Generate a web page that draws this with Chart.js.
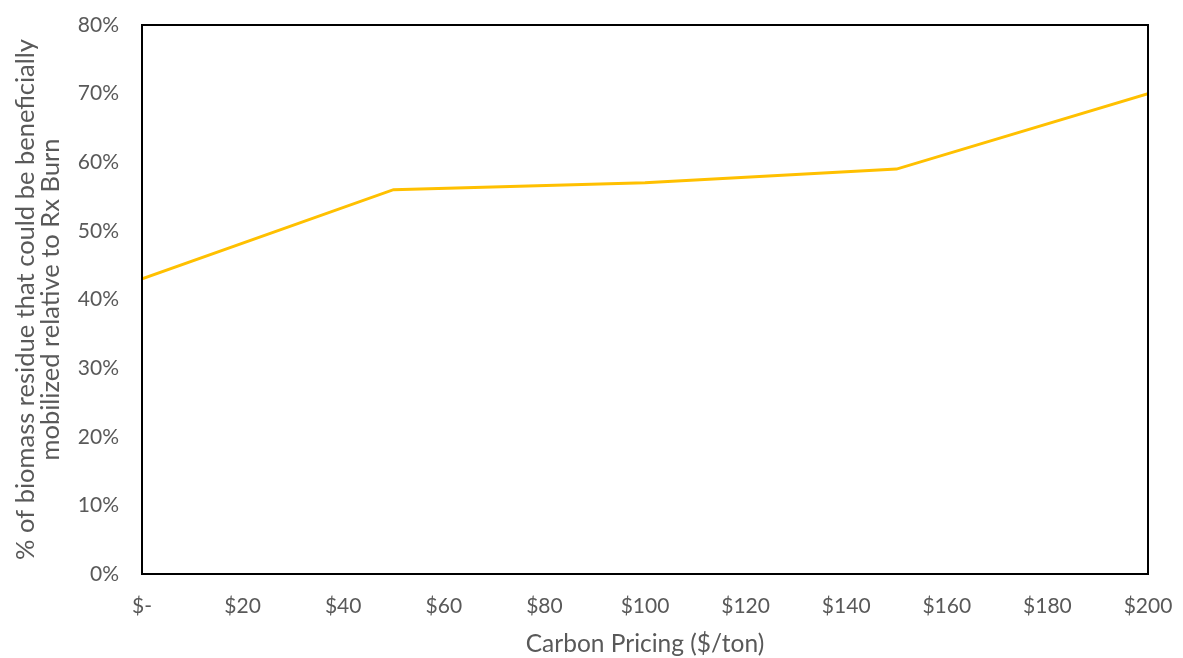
<!DOCTYPE html>
<html>
<head>
<meta charset="utf-8">
<script src="https://cdn.jsdelivr.net/npm/chart.js@4"></script>
<style>
  html, body { margin: 0; padding: 0; background: #fff; }
  #wrap { width: 1183px; height: 658px; }
</style>
</head>
<body>
<div id="wrap"><canvas id="line-chart" width="1183" height="658"></canvas></div>
<script>
// Carbon price ($/ton) and share of residue mobilized (%)
const carbonPrices = [0, 50, 100, 150, 200];
const mobilizedPct = [43, 56, 57, 59, 70];
const xTicks = [0, 20, 40, 60, 80, 100, 120, 140, 160, 180, 200];
const yTicks = [0, 10, 20, 30, 40, 50, 60, 70, 80];

const gray = '#595959';
const fontFamily = 'Lato, "Open Sans", sans-serif';

// draws the black frame round the plot area
const frame = {
    id: 'frame',
    afterDraw(chart) {
        const a = chart.chartArea;
        const ctx = chart.ctx;
        ctx.save();
        ctx.strokeStyle = '#000';
        ctx.lineWidth = 2;
        ctx.strokeRect(a.left, a.top, a.right - a.left, a.bottom - a.top);
        ctx.restore();
    }
};

var ctx = document.getElementById('line-chart').getContext('2d');
new Chart(ctx, {
    type: 'line',
    data: {
        datasets: [{
            data: carbonPrices.map((p, i) => ({ x: p, y: mobilizedPct[i] })),
            borderColor: '#FFC000',
            borderWidth: 3,
            pointRadius: 0,
            tension: 0,
            fill: false
        }]
    },
    options: {
        responsive: false,
        animation: false,
        layout: { padding: { left: 0, right: 35, top: 25, bottom: 0 } },
        plugins: { legend: { display: false }, tooltip: { enabled: false } },
        scales: {
            x: {
                type: 'linear',
                min: 0,
                max: 200,
                afterFit(scale) {
                    scale.height = 84;
                    scale.paddingLeft = 0;
                    scale.paddingRight = 0;
                },
                afterBuildTicks(scale) { scale.ticks = xTicks.map(v => ({ value: v })); },
                grid: { display: false, drawTicks: false },
                border: { display: false },
                ticks: {
                    padding: 20,
                    color: gray,
                    font: { family: fontFamily, size: 21 },
                    callback: v => v === 0 ? '$-' : '$' + v
                },
                title: {
                    display: true,
                    text: 'Carbon Pricing ($/ton)',
                    color: gray,
                    font: { family: fontFamily, size: 24.5, lineHeight: 1.02 },
                    padding: { top: 0, bottom: 1 }
                }
            },
            y: {
                min: 0,
                max: 80,
                afterFit(scale) {
                    scale.width = 142;
                    scale.paddingTop = 0;
                    scale.paddingBottom = 0;
                },
                afterBuildTicks(scale) { scale.ticks = yTicks.map(v => ({ value: v })); },
                grid: { display: false, drawTicks: false },
                border: { display: false },
                ticks: {
                    padding: 23,
                    color: gray,
                    font: { family: fontFamily, size: 21 },
                    callback: v => v + '%'
                },
                title: {
                    display: true,
                    text: ['% of biomass residue that could be beneficially', 'mobilized relative to Rx Burn'],
                    color: gray,
                    font: { family: fontFamily, size: 25.5, lineHeight: 0.98 },
                    padding: { top: 13, bottom: 0 }
                }
            }
        }
    },
    plugins: [frame]
});
</script>
</body>
</html>
